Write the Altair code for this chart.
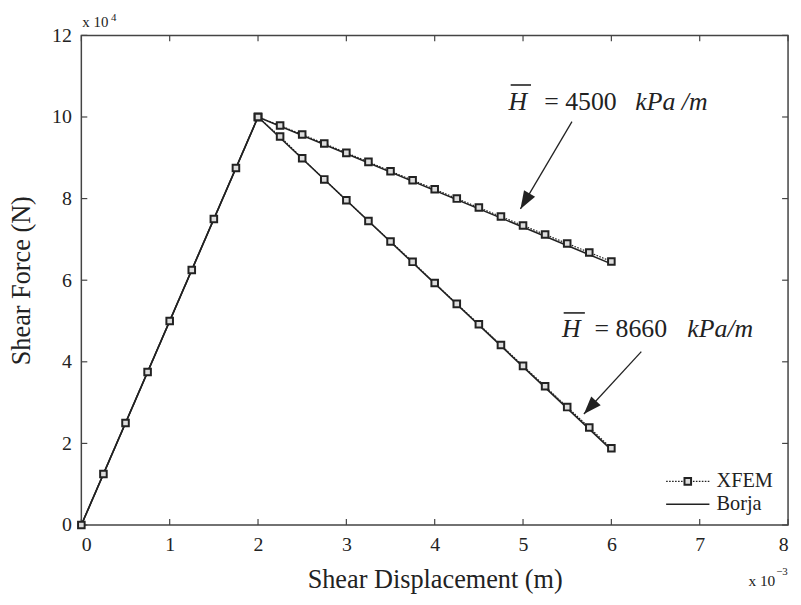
import altair as alt
import pandas as pd

FONT = "Liberation Serif"
INK = "#222222"

# ---- data (displacement in 1e-3 m, force in 1e4 N) ----
load_x = [0.0, 0.25, 0.5, 0.75, 1.0, 1.25, 1.5, 1.75, 2.0]
load_y = [0.0, 1.25, 2.5, 3.75, 5.0, 6.25, 7.5, 8.75, 10.0]

soft_x = [2.0, 2.25, 2.5, 2.75, 3.0, 3.25, 3.5, 3.75, 4.0, 4.25, 4.5, 4.75,
          5.0, 5.25, 5.5, 5.75, 6.0]
h4500_y = [10.0, 9.79, 9.57, 9.35, 9.12, 8.90, 8.67, 8.45, 8.23, 8.00, 7.78,
           7.56, 7.34, 7.12, 6.90, 6.68, 6.46]
h8660_y = [10.0, 9.52, 8.99, 8.47, 7.96, 7.45, 6.95, 6.45, 5.93, 5.42, 4.92,
           4.41, 3.90, 3.40, 2.89, 2.39, 1.88]

borja_x = [0.0, 2.0, 6.0]
borja_4500 = [0.0, 10.0, 6.40]
borja_8660 = [0.0, 10.0, 1.84]

x_ticks = [0, 1, 2, 3, 4, 5, 6, 7, 8]
y_ticks = [0, 2, 4, 6, 8, 10, 12]

# ---- tables ----
xfem_rows = []
for i, (x, y) in enumerate(zip(load_x, load_y)):
    xfem_rows.append(dict(x=x, y=y, branch="load", o=i))
for i, (x, y) in enumerate(zip(soft_x, h4500_y)):
    xfem_rows.append(dict(x=x, y=y, branch="h4500", o=i))
for i, (x, y) in enumerate(zip(soft_x, h8660_y)):
    xfem_rows.append(dict(x=x, y=y, branch="h8660", o=i))
xfem = pd.DataFrame(xfem_rows)

borja_rows = []
for i, (x, y) in enumerate(zip(borja_x, borja_4500)):
    borja_rows.append(dict(x=x, y=y, branch="b4500", o=i))
for i, (x, y) in enumerate(zip(borja_x, borja_8660)):
    borja_rows.append(dict(x=x, y=y, branch="b8660", o=i))
borja = pd.DataFrame(borja_rows)

xs = alt.Scale(domain=[0, 8], nice=False, zero=False)
ys = alt.Scale(domain=[0, 12], nice=False, zero=False)

X = alt.X("x:Q", scale=xs, title="Shear Displacement (m)",
          axis=alt.Axis(values=x_ticks, format="d"))
Y = alt.Y("y:Q", scale=ys, title="Shear Force (N)",
          axis=alt.Axis(values=y_ticks, format="d"))

borja_line = alt.Chart(borja).mark_line(color=INK, strokeWidth=1.6).encode(
    x=X, y=Y, detail="branch:N", order="o:Q")

xfem_line = alt.Chart(xfem).mark_line(color=INK, strokeWidth=1.2,
                                      strokeDash=[1.6, 1.4]).encode(
    x=X, y=Y, detail="branch:N", order="o:Q")

xfem_pts = alt.Chart(xfem).mark_point(shape="square", filled=True,
                                      fill="#dddddd", stroke=INK,
                                      strokeWidth=2, size=44, opacity=1).encode(
    x=X, y=Y)

# ---- inward ticks ----
tl_y = 6 / 41.17
tl_x = 6 / 89.125
tick_rows = []
for t in x_ticks:
    tick_rows.append(dict(x=t, y=0, x2=t, y2=tl_y))
    tick_rows.append(dict(x=t, y=12, x2=t, y2=12 - tl_y))
for t in y_ticks:
    tick_rows.append(dict(x=0, y=t, x2=tl_x, y2=t))
    tick_rows.append(dict(x=8, y=t, x2=8 - tl_x, y2=t))
ticks = alt.Chart(pd.DataFrame(tick_rows)).mark_rule(color="#444444", strokeWidth=1.2).encode(
    x=alt.X("x:Q", scale=xs), y=alt.Y("y:Q", scale=ys), x2="x2:Q", y2="y2:Q")

# ---- arrows ----
arr = pd.DataFrame(dict(x=[5.554, 6.339], y=[9.886, 4.251],
                        x2=[4.971, 5.689], y2=[7.748, 2.720],
                        ang=[210.6, 222.6]))
arrow_lines = alt.Chart(arr).mark_rule(color=INK, strokeWidth=1.3).encode(
    x=alt.X("x:Q", scale=xs), y=alt.Y("y:Q", scale=ys), x2="x2:Q", y2="y2:Q")
arrow_heads = alt.Chart(arr).mark_point(shape="M0,0L0.65,1.8L-0.65,1.8Z", filled=True,
                                        color=INK, size=400, opacity=1).encode(
    x=alt.X("x2:Q", scale=xs), y=alt.Y("y2:Q", scale=ys),
    angle=alt.Angle("ang:Q", scale=None))

# ---- annotation texts ----
ital = pd.DataFrame(dict(x=[4.835, 6.27, 5.44, 6.86], y=[10.177, 10.177, 4.615, 4.615],
                         t=["H", "kPa /m", "H", "kPa/m"]))
norm = pd.DataFrame(dict(x=[5.24, 5.81], y=[10.177, 4.615],
                         t=["= 4500", "= 8660"]))
ital_txt = alt.Chart(ital).mark_text(font=FONT, fontSize=26, fontStyle="italic",
                                     align="left", baseline="alphabetic", color=INK).encode(
    x=alt.X("x:Q", scale=xs), y=alt.Y("y:Q", scale=ys), text="t:N")
norm_txt = alt.Chart(norm).mark_text(font=FONT, fontSize=26,
                                     align="left", baseline="alphabetic", color=INK).encode(
    x=alt.X("x:Q", scale=xs), y=alt.Y("y:Q", scale=ys), text="t:N")
bars = pd.DataFrame(dict(x=[4.86, 5.46], x2=[5.09, 5.70], y=[10.784, 5.198]))
bar_rules = alt.Chart(bars).mark_rule(color=INK, strokeWidth=1.6).encode(
    x=alt.X("x:Q", scale=xs), x2="x2:Q", y=alt.Y("y:Q", scale=ys))

# ---- legend (drawn) ----
leg_line = pd.DataFrame(dict(x=[6.62, 7.11], y=[1.069, 1.069]))
leg_pt = pd.DataFrame(dict(x=[6.865], y=[1.069]))
leg_b = pd.DataFrame(dict(x=[6.62, 7.11], y=[0.51, 0.51]))
leg_txt = pd.DataFrame(dict(x=[7.19, 7.19], y=[1.069, 0.51], t=["XFEM", "Borja"]))
legend = (
    alt.Chart(leg_line).mark_line(color=INK, strokeWidth=1.2, strokeDash=[1.6, 1.4]).encode(
        x=alt.X("x:Q", scale=xs), y=alt.Y("y:Q", scale=ys))
    + alt.Chart(leg_pt).mark_point(shape="square", filled=True, fill="#dddddd", stroke=INK,
                                   strokeWidth=2, size=44, opacity=1).encode(
        x=alt.X("x:Q", scale=xs), y=alt.Y("y:Q", scale=ys))
    + alt.Chart(leg_b).mark_line(color=INK, strokeWidth=1.6).encode(
        x=alt.X("x:Q", scale=xs), y=alt.Y("y:Q", scale=ys))
    + alt.Chart(leg_txt).mark_text(font=FONT, fontSize=20.5, align="left", baseline="middle",
                                   color=INK).encode(
        x=alt.X("x:Q", scale=xs), y=alt.Y("y:Q", scale=ys), text="t:N")
)

# ---- multipliers ----
one = pd.DataFrame(dict(a=[0]))
mult = (
    alt.Chart(one).mark_text(font=FONT, fontSize=15, align="left",
                             baseline="alphabetic", color=INK).encode(
        x=alt.value(1), y=alt.value(-8), text=alt.value("x 10"))
    + alt.Chart(one).mark_text(font=FONT, fontSize=11, align="left",
                               baseline="alphabetic", color=INK).encode(
        x=alt.value(30), y=alt.value(-15), text=alt.value("4"))
    + alt.Chart(one).mark_text(font=FONT, fontSize=15.5, align="left",
                               baseline="alphabetic", color=INK).encode(
        x=alt.value(673), y=alt.value(556), text=alt.value("x 10"))
    + alt.Chart(one).mark_text(font=FONT, fontSize=11, align="left",
                               baseline="alphabetic", color=INK).encode(
        x=alt.value(701), y=alt.value(544), text=alt.value("\u22123"))
)

chart = alt.layer(
    ticks, borja_line, xfem_line, xfem_pts, arrow_lines, arrow_heads,
    ital_txt, norm_txt, bar_rules, legend, mult
).properties(
    width=713, height=494,
    autosize=alt.AutoSizeParams(type="none"),
    padding={"left": 74, "top": 25, "right": 5, "bottom": 70},
).configure_view(
    stroke="#444444", strokeWidth=1.5
).configure_axis(
    grid=False, domain=False, ticks=False, labelFont=FONT, titleFont=FONT,
    labelFontSize=20, titleFontSize=26.5, labelColor=INK, titleColor=INK,
    titleFontWeight="normal", labelPadding=10,
).configure_axisX(
    titlePadding=12,
).configure_axisY(
    titlePadding=16,
)

chart.save("out.html", embed_options={"renderer": "svg", "actions": False})
